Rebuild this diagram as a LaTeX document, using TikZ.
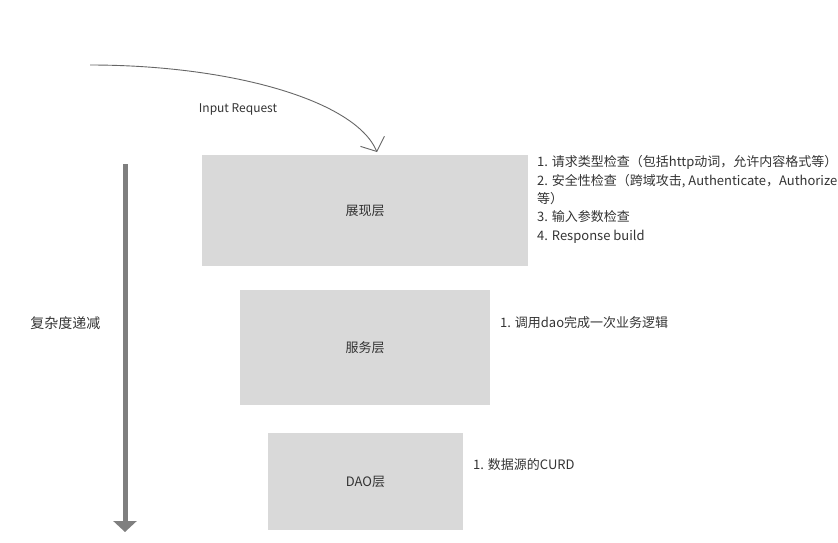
\documentclass[tikz,border=0pt]{standalone}
\usepackage{fontspec}
\setmainfont{Noto Sans CJK SC}
\usetikzlibrary{arrows.meta}
\definecolor{boxgray}{HTML}{D9D9D9}
\definecolor{txtgray}{HTML}{333333}
\definecolor{arrgray}{HTML}{7F7F7F}
\definecolor{curvegray}{HTML}{666666}
\begin{document}
\begin{tikzpicture}[x=1pt,y=-1pt,
  layerbox/.style={fill=boxgray,draw=none,inner sep=0pt,text=txtgray,font=\fontsize{13}{15}\selectfont},
  note/.style={anchor=north west,align=left,inner sep=0pt,text=txtgray,font=\fontsize{13}{18.3}\selectfont},
  plain/.style={inner sep=0pt,text=txtgray,font=\fontsize{12}{14}\selectfont}]
\useasboundingbox (0,0) rectangle (838,542);
\node[layerbox,minimum width=326pt,minimum height=111pt] (p) at (365,210.5) {展现层};
\node[layerbox,minimum width=250pt,minimum height=115pt] (s) at (365,347.5) {服务层};
\node[layerbox,minimum width=195pt,minimum height=97pt] (d) at (365.5,481.5) {DAO层};
\node[note] (pn) at (537,155.5) {1. 请求类型检查（包括http动词，允许内容格式等）\\2. 安全性检查（跨域攻击, Authenticate，Authorize\\等）\\3. 输入参数检查\\4. Response build};
\node[note] (sn) at (500,316.5) {1. 调用dao完成一次业务逻辑};
\node[note] (dn) at (473,458.5) {1. 数据源的CURD};
\node[plain] (in) at (238,109) {Input Request};
\node[plain,font=\fontsize{14}{16}\selectfont] (cx) at (65.5,323.5) {复杂度递减};
\coordinate (cs) at (90,65);
\coordinate (ce) at (377,152);
\draw[curvegray,line width=0.9pt,-{Straight Barb[length=11pt,width=26pt,line width=0.9pt]}] (cs) .. controls (230,65) and (355,100) .. (ce);
\coordinate (vs) at (125,164);
\coordinate (ve) at (125,532);
\draw[arrgray,line width=5pt,-{Triangle[length=11pt,width=23pt]}] (vs) -- (ve);
\end{tikzpicture}
\end{document}
